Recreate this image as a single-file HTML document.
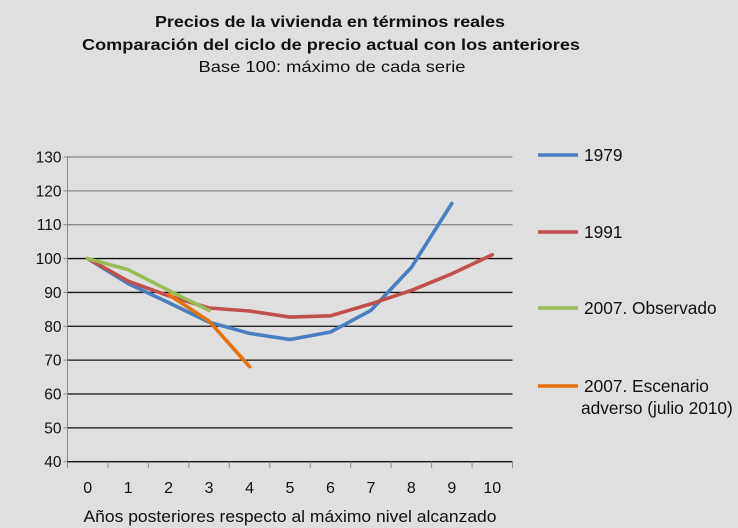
<!DOCTYPE html>
<html><head><meta charset="utf-8"><style>
html,body{margin:0;padding:0;background:#dfdfdf;}
svg{display:block;font-family:"Liberation Sans",sans-serif;}
</style></head><body>
<svg id="c" width="738" height="528" viewBox="0 0 738 528">
<rect x="0" y="0" width="738" height="528" fill="#dfdfdf"/>
<text x="330" y="27" text-anchor="middle" font-size="16" font-weight="bold" fill="#111" textLength="350" lengthAdjust="spacingAndGlyphs">Precios de la vivienda en términos reales</text>
<text x="331" y="50" text-anchor="middle" font-size="16" font-weight="bold" fill="#111" textLength="498" lengthAdjust="spacingAndGlyphs">Comparación del ciclo de precio actual con los anteriores</text>
<text x="332" y="72" text-anchor="middle" font-size="16" fill="#111" textLength="267" lengthAdjust="spacingAndGlyphs">Base 100: máximo de cada serie</text>
<g id="grid"></g>
<g id="axes"></g>
<g id="series"></g>
<text x="290" y="522" text-anchor="middle" font-size="17" fill="#111" textLength="413" lengthAdjust="spacingAndGlyphs">Años posteriores respecto al máximo nivel alcanzado</text>
<g id="legend"></g>
</svg>
<script>
const categories=[0,1,2,3,4,5,6,7,8,9,10];
const yTicks=[40,50,60,70,80,90,100,110,120,130];
const s1979=[100,92.6,87,81.2,77.9,76.1,78.3,84.7,97.4,116.3,null];
const s1991=[100,93.3,89,85.4,84.5,82.7,83.1,86.6,90.6,95.5,101.1];
const s2007obs=[100,96.7,90.6,84.7,null,null,null,null,null,null,null];
const s2007adv=[null,null,89.4,81.5,68.1,null,null,null,null,null,null];
const seriesNames=["1979","1991","2007. Observado","2007. Escenario|adverso (julio 2010)"];
const seriesColors=["#4a7ebf","#c0504d","#9bbb59","#e8710a"];
const L=67.5,R=512.5,T=157,B=461.7,yMin=40,yMax=130;
const bw=(R-L)/categories.length;
const xS=i=>L+bw*(i+0.5);
const yS=v=>B-(v-yMin)/(yMax-yMin)*(B-T);
const NS="http://www.w3.org/2000/svg";
function mk(tag,attrs,parent){const e=document.createElementNS(NS,tag);for(const k in attrs)e.setAttribute(k,attrs[k]);parent.appendChild(e);return e;}
const grid=document.getElementById('grid'),axes=document.getElementById('axes'),ser=document.getElementById('series'),leg=document.getElementById('legend');
yTicks.forEach(v=>{
 if(v>yMin){const g=mk('line',{x1:L,x2:R,y1:yS(v),y2:yS(v),stroke:v>=110?'#888':'#111','stroke-width':1.3},grid);
 
 }
 const tk=mk('line',{x1:L-4,x2:L,y1:yS(v),y2:yS(v),stroke:'#888'},axes);
 
 
 const t=mk('text',{x:L-6,y:yS(v)+5.5,'text-anchor':'end','font-size':15.5,fill:'#111'},axes);t.textContent=v;
 
 
});
const ya=mk('line',{x1:L,x2:L,y1:T,y2:B,stroke:'#888'},axes);


const xa=mk('line',{x1:L,x2:R,y1:B,y2:B,stroke:'#111','stroke-width':1.3},axes);


for(let i=0;i<=categories.length;i++){const tk=mk('line',{x1:L+bw*i,x2:L+bw*i,y1:B,y2:B+6,stroke:'#888'},axes);
 
 }
categories.forEach((c,i)=>{const t=mk('text',{x:xS(i),y:493,'text-anchor':'middle','font-size':16,fill:'#111'},axes);t.textContent=c;
 
 });
const all=[s1979,s1991,s2007obs,s2007adv];
all.forEach((s,k)=>{let d='';let pen=false;s.forEach((v,i)=>{if(v==null){pen=false;return;}d+=(pen?'L':'M')+xS(i).toFixed(1)+' '+yS(v).toFixed(1);pen=true;});
 const p=mk('path',{d:d,fill:'none',stroke:seriesColors[k],'stroke-width':3.6,'stroke-linejoin':'round','stroke-linecap':'round'},ser);
 
 });
const legY=[155,232,308,386];
seriesNames.forEach((n,k)=>{const y=legY[k];
 const l=mk('line',{x1:538,x2:578,y1:y,y2:y,stroke:seriesColors[k],'stroke-width':3.4},leg);
 
 
 n.split('|').forEach((part,j)=>{const t=mk('text',{x:j?581:584,y:y+6+j*22,'font-size':17.3,fill:'#111'},leg);t.textContent=part;
 
 });
});
</script>
</body></html>
